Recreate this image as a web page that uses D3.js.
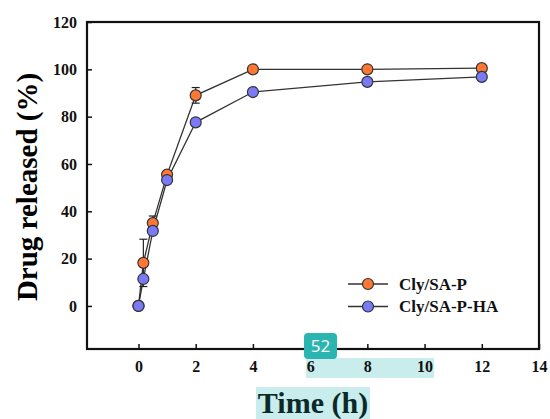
<!DOCTYPE html>
<html><head><meta charset="utf-8">
<script src="https://cdn.jsdelivr.net/npm/d3@7"></script>
<style>body{margin:0;background:#fff;}svg{display:block;}</style>
</head><body>
<svg id="c" width="550" height="419"></svg>
<script>
const time = [0, 0.17, 0.5, 1, 2, 4, 8, 12];
const seriesNames = ["Cly/SA-P", "Cly/SA-P-HA"];
const releaseP = [0, 18.2, 35, 55.5, 89, 100, 100, 100.5];
const errorP = [0, 10, 3, 0, 3.3, 0, 0, 0];
const releasePHA = [0, 11.4, 31.7, 53.2, 77.6, 90.4, 94.7, 96.8];
const errorPHA = [0, 0, 0, 0, 0, 0, 0, 0];
const xTicks = [0, 2, 4, 6, 8, 10, 12, 14];
const yTicks = [0, 20, 40, 60, 80, 100, 120];
const colors = ["#ff7733", "#7a7af7"];

const svg = d3.select("#c");
const L = 87, R = 539, T = 22, B = 349;
const x = d3.scaleLinear().domain([-1.8, 14]).range([L, R]);
const y = d3.scaleLinear().domain([-18.2, 120]).range([B, T]);
const font = "'Liberation Serif', 'Times New Roman', serif";

// highlight overlays (from reference)
svg.append("rect").attr("x", 306).attr("y", 358).attr("width", 128).attr("height", 20).attr("fill", "#c9eced");
svg.append("rect").attr("x", 256).attr("y", 387).attr("width", 114).attr("height", 32).attr("fill", "#c9eced");

// axes
const xAxis = d3.axisBottom(x).tickValues(xTicks).tickSizeInner(-5).tickSizeOuter(0).tickPadding(12);
const gx = svg.append("g").attr("transform", `translate(0,${B})`).call(xAxis);
const yAxis = d3.axisLeft(y).tickValues(yTicks).tickSizeInner(-5).tickSizeOuter(0).tickPadding(10);
const gy = svg.append("g").attr("transform", `translate(${L},0)`).call(yAxis);
[gx, gy].forEach(g => {
  g.select(".domain").remove();
  g.selectAll(".tick line").attr("stroke", "#111").attr("stroke-width", 1.5);
  g.selectAll(".tick text").attr("font-family", font).attr("font-weight", "bold").attr("font-size", 16).attr("fill", "#111");
});
svg.append("rect").attr("x", L).attr("y", T).attr("width", R - L).attr("height", B - T)
  .attr("fill", "none").attr("stroke", "#111").attr("stroke-width", 2.2);

// axis titles
svg.append("text").attr("x", 313).attr("y", 413).attr("text-anchor", "middle")
  .attr("font-family", font).attr("font-weight", "bold").attr("font-size", 30).attr("fill", "#0a2a2a").text("Time (h)");
svg.append("text").attr("transform", "translate(37,187) rotate(-90)").attr("text-anchor", "middle")
  .attr("font-family", font).attr("font-weight", "bold").attr("font-size", 29).attr("fill", "#000").text("Drug released (%)");

const data = [
  {name: seriesNames[0], vals: releaseP, err: errorP, color: colors[0]},
  {name: seriesNames[1], vals: releasePHA, err: errorPHA, color: colors[1]}
];
const line = d3.line().x((d, i) => x(time[i])).y(d => y(d));

data.forEach(s => {
  svg.append("path").attr("d", line(s.vals)).attr("fill", "none").attr("stroke", "#333").attr("stroke-width", 1.3);
});
data.forEach(s => {
  const g = svg.append("g");
  s.vals.forEach((v, i) => {
    if (s.err[i] > 0) {
      const cx = x(time[i]);
      const y1 = y(v + s.err[i]), y0 = y(v - s.err[i]);
      g.append("line").attr("x1", cx).attr("x2", cx).attr("y1", y0).attr("y2", y1).attr("stroke", "#222").attr("stroke-width", 1.2);
      [y0, y1].forEach(yy => g.append("line").attr("x1", cx - 4).attr("x2", cx + 4).attr("y1", yy).attr("y2", yy).attr("stroke", "#222").attr("stroke-width", 1.2));
    }
  });
});
data.forEach(s => {
  svg.append("g").selectAll("circle").data(s.vals).join("circle")
    .attr("cx", (d, i) => x(time[i])).attr("cy", d => y(d)).attr("r", 5.5)
    .attr("fill", s.color).attr("stroke", "#333").attr("stroke-width", 1.2);
});

// legend
const lg = svg.append("g");
data.forEach((s, i) => {
  const yy = 284 + i * 22.5;
  lg.append("line").attr("x1", 348).attr("x2", 388).attr("y1", yy).attr("y2", yy).attr("stroke", "#333").attr("stroke-width", 1.3);
  lg.append("circle").attr("cx", 368).attr("cy", yy).attr("r", 5.5).attr("fill", s.color).attr("stroke", "#333").attr("stroke-width", 1.2);
  lg.append("text").attr("x", 399).attr("y", yy).attr("dy", "0.35em").attr("font-family", font).attr("font-weight", "bold")
    .attr("font-size", 17).attr("fill", "#111").text(s.name);
});

// badge overlay (from reference)
svg.append("rect").attr("x", 304).attr("y", 333).attr("width", 33).attr("height", 26).attr("rx", 4).attr("fill", "#2bb5b0");
svg.append("text").attr("x", 320.5).attr("y", 346).attr("dy", "0.36em").attr("text-anchor", "middle")
  .attr("font-family", "'Open Sans', sans-serif").attr("font-size", 17).attr("fill", "#fff").text("52");
</script>
</body></html>
